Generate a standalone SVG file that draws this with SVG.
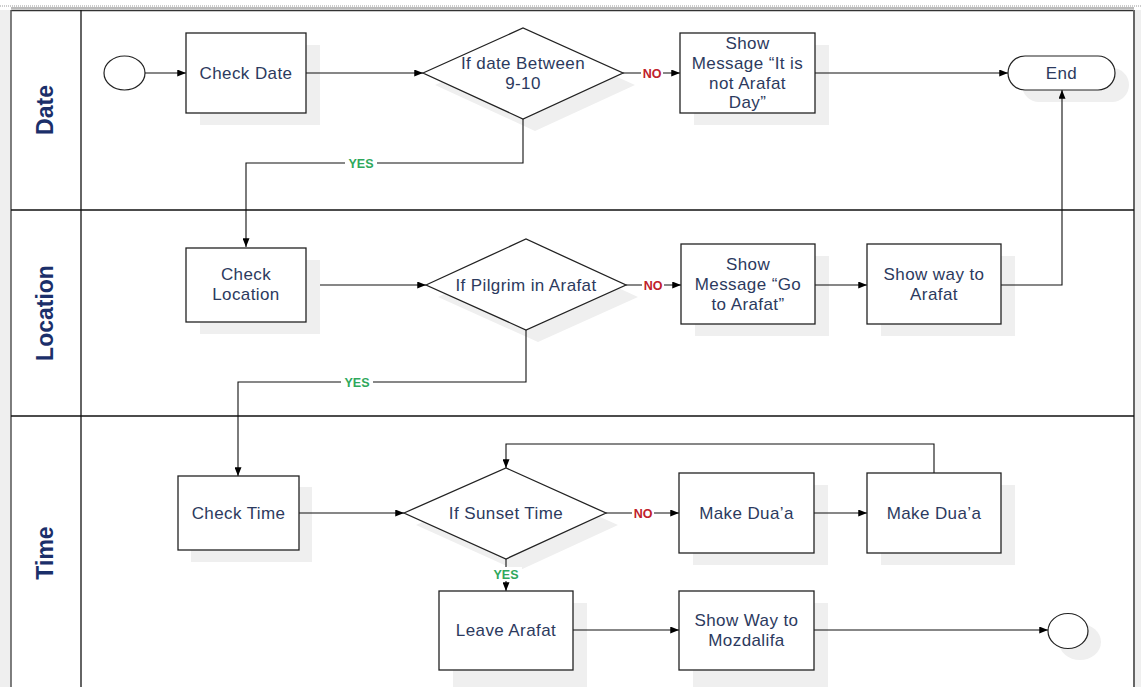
<svg xmlns="http://www.w3.org/2000/svg" width="1141" height="687" viewBox="0 0 1141 687">
<defs>
<marker id="arr" viewBox="0 0 10 8" refX="10" refY="4" markerWidth="9" markerHeight="7" markerUnits="userSpaceOnUse" orient="auto">
<path d="M0,0 L10,4 L0,8 z" fill="#000"/>
</marker>
</defs>
<style>
.lane{fill:none;stroke:#111;stroke-width:1.3}
.box{fill:#fff;stroke:#222;stroke-width:1.3}
.sh{fill:#efefef;stroke:none}
.t{font-family:"Liberation Sans",Arial,sans-serif;font-size:17px;fill:#2c3a5e;text-anchor:middle;letter-spacing:0.4px}
.lbl{font-family:"Liberation Sans",Arial,sans-serif;font-size:23px;font-weight:bold;fill:#1b2f6a;text-anchor:middle;dominant-baseline:central}
.c{fill:none;stroke:#111;stroke-width:1.1}
.yes{font-family:"Liberation Sans",Arial,sans-serif;font-size:12.5px;font-weight:bold;fill:#2ea85c;text-anchor:middle}
.no{font-family:"Liberation Sans",Arial,sans-serif;font-size:12.5px;font-weight:bold;fill:#c0202a;text-anchor:middle}
</style>
<rect x="0" y="0" width="1141" height="687" fill="#fff"/>
<rect x="0" y="10" width="11" height="677" fill="#efefef"/>
<rect x="1135" y="10" width="6" height="677" fill="#efefef"/>
<line x1="0" y1="6" x2="1141" y2="6" stroke="#999" stroke-width="1.2" stroke-dasharray="1,1"/>
<g id="lanes">
<line x1="11" y1="8" x2="1134" y2="8" stroke="#777" stroke-width="1"/>
<line x1="11" y1="10.5" x2="1134" y2="10.5" stroke="#333" stroke-width="1.3"/>
<line x1="11" y1="10" x2="11" y2="687" stroke="#555" stroke-width="1.5"/>
<line x1="1134" y1="10" x2="1134" y2="687" stroke="#666" stroke-width="2"/>
<line x1="81" y1="10" x2="81" y2="687" class="lane"/>
<line x1="11" y1="210" x2="1134" y2="210" class="lane"/>
<line x1="11" y1="416" x2="1134" y2="416" class="lane"/>
<text class="lbl" transform="translate(45,110) rotate(-90)">Date</text>
<text class="lbl" transform="translate(45,313) rotate(-90)">Location</text>
<text class="lbl" transform="translate(45,553) rotate(-90)">Time</text>
</g>
<g id="shadows">
<rect class="sh" x="200" y="45" width="120" height="80"/>
<polygon class="sh" points="435,85 535,40 635,85 535,131"/>
<rect class="sh" x="694" y="45" width="135" height="80"/>
<rect class="sh" x="1022" y="68" width="107" height="34" rx="17"/>
<rect class="sh" x="200" y="260" width="120" height="74"/>
<polygon class="sh" points="438,297 538,251 638,297 538,342"/>
<rect class="sh" x="695" y="256" width="134" height="80"/>
<rect class="sh" x="881" y="256" width="134" height="80"/>
<rect class="sh" x="191" y="487" width="121" height="75"/>
<polygon class="sh" points="416,525 518,480 618,525 518,571"/>
<rect class="sh" x="693" y="485" width="135" height="80"/>
<rect class="sh" x="881" y="485" width="134" height="80"/>
<rect class="sh" x="453" y="603" width="134" height="84"/>
<rect class="sh" x="693" y="603" width="135" height="84"/>
<ellipse class="sh" cx="1080" cy="642" rx="21" ry="18"/>
</g>
<g id="connectors">
<path class="c" d="M145,73 H186" marker-end="url(#arr)"/>
<path class="c" d="M306,73 H423" marker-end="url(#arr)"/>
<path class="c" d="M623,73 H680" marker-end="url(#arr)"/>
<path class="c" d="M815,73 H1008" marker-end="url(#arr)"/>
<path class="c" d="M523,119 V163 H246 V247" marker-end="url(#arr)"/>
<path class="c" d="M320,285 H426" marker-end="url(#arr)"/>
<path class="c" d="M626,285 H681" marker-end="url(#arr)"/>
<path class="c" d="M815,285 H867" marker-end="url(#arr)"/>
<path class="c" d="M1001,285 H1062 V90" marker-end="url(#arr)"/>
<path class="c" d="M526,330 V382 H238 V476" marker-end="url(#arr)"/>
<path class="c" d="M299,513 H404" marker-end="url(#arr)"/>
<path class="c" d="M606,513 H679" marker-end="url(#arr)"/>
<path class="c" d="M814,513 H867" marker-end="url(#arr)"/>
<path class="c" d="M934,473 V444 H506 V468" marker-end="url(#arr)"/>
<path class="c" d="M506,559 V591" marker-end="url(#arr)"/>
<path class="c" d="M573,630 H679" marker-end="url(#arr)"/>
<path class="c" d="M814,630 H1048" marker-end="url(#arr)"/>
<rect x="345" y="156" width="32" height="14" fill="#fff"/>
<text class="yes" x="361" y="168">YES</text>
<rect x="641" y="66" width="22" height="14" fill="#fff"/>
<text class="no" x="652" y="78">NO</text>
<rect x="341" y="375" width="32" height="14" fill="#fff"/>
<text class="yes" x="357" y="387">YES</text>
<rect x="642" y="278" width="22" height="14" fill="#fff"/>
<text class="no" x="653" y="290">NO</text>
<rect x="632" y="506" width="22" height="14" fill="#fff"/>
<text class="no" x="643" y="518">NO</text>
<rect x="490" y="567" width="32" height="14" fill="#fff"/>
<text class="yes" x="506" y="579">YES</text>
</g>
<g id="start">
<ellipse cx="124.5" cy="73" rx="20.5" ry="17" fill="#fff" stroke="#222" stroke-width="1.2"/>
</g>
<g id="check-date">
<rect class="box" x="186" y="33" width="120" height="80"/>
<text class="t" x="246" y="79">Check Date</text>
</g>
<g id="if-date">
<polygon class="box" points="423,73 523,28 623,73 523,119"/>
<text class="t" x="523" y="69">If date Between</text>
<text class="t" x="523" y="89">9-10</text>
</g>
<g id="msg-not-arafat">
<rect class="box" x="680" y="33" width="135" height="80"/>
<text class="t" x="747.5" y="49">Show</text>
<text class="t" x="747.5" y="69">Message “It is</text>
<text class="t" x="747.5" y="89">not Arafat</text>
<text class="t" x="747.5" y="108">Day”</text>
</g>
<g id="end">
<rect x="1008" y="56" width="107" height="34" rx="17" fill="#fff" stroke="#222" stroke-width="1.2"/>
<text class="t" x="1061.5" y="79">End</text>
</g>
<g id="check-location">
<rect class="box" x="186" y="248" width="120" height="74"/>
<text class="t" x="246" y="280">Check</text>
<text class="t" x="246" y="300">Location</text>
</g>
<g id="if-pilgrim">
<polygon class="box" points="426,285 526,239 626,285 526,330"/>
<text class="t" x="526" y="291">If Pilgrim in Arafat</text>
</g>
<g id="msg-go-arafat">
<rect class="box" x="681" y="244" width="134" height="80"/>
<text class="t" x="748" y="270">Show</text>
<text class="t" x="748" y="290">Message “Go</text>
<text class="t" x="748" y="310">to Arafat”</text>
</g>
<g id="show-way-arafat">
<rect class="box" x="867" y="244" width="134" height="80"/>
<text class="t" x="934" y="280">Show way to</text>
<text class="t" x="934" y="300">Arafat</text>
</g>
<g id="check-time">
<rect class="box" x="178" y="476" width="121" height="74"/>
<text class="t" x="238.5" y="519">Check Time</text>
</g>
<g id="if-sunset">
<polygon class="box" points="404,513 506,468 606,513 506,559"/>
<text class="t" x="506" y="519">If Sunset Time</text>
</g>
<g id="make-duaa-1">
<rect class="box" x="679" y="473" width="135" height="80"/>
<text class="t" x="746.5" y="519">Make Dua’a</text>
</g>
<g id="make-duaa-2">
<rect class="box" x="867" y="473" width="134" height="80"/>
<text class="t" x="934" y="519">Make Dua’a</text>
</g>
<g id="leave-arafat">
<rect class="box" x="439" y="591" width="134" height="79"/>
<text class="t" x="506" y="636">Leave Arafat</text>
</g>
<g id="show-way-mozdalifa">
<rect class="box" x="679" y="591" width="135" height="79"/>
<text class="t" x="746.5" y="626">Show Way to</text>
<text class="t" x="746.5" y="646">Mozdalifa</text>
</g>
<g id="finish">
<ellipse cx="1068" cy="631" rx="20" ry="17.5" fill="#fff" stroke="#222" stroke-width="1.2"/>
</g>
</svg>
